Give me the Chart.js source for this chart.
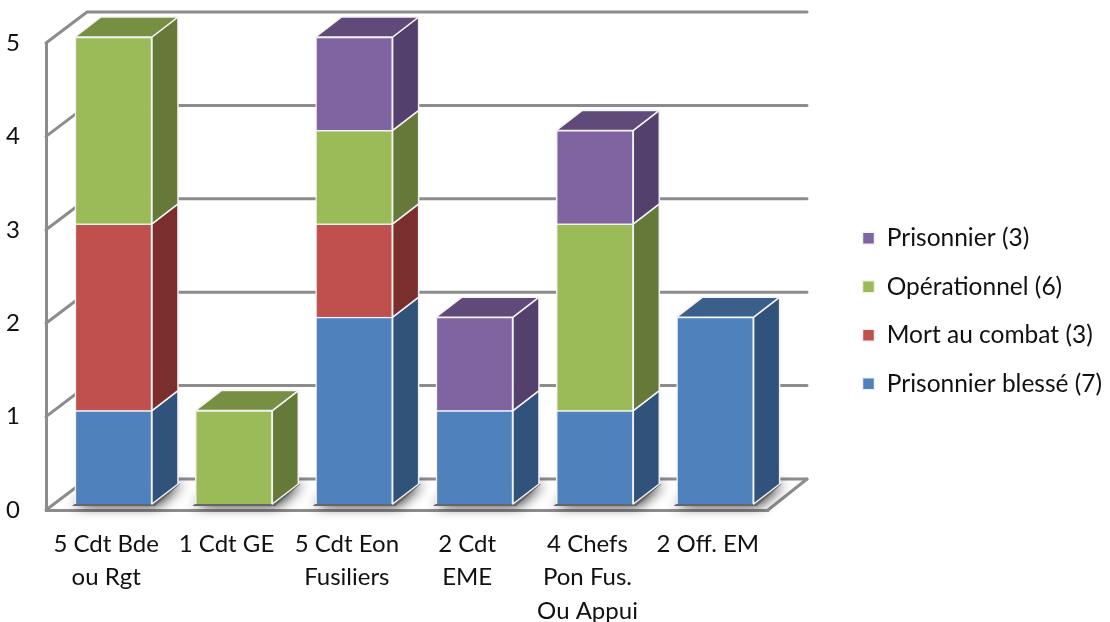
<!DOCTYPE html>
<html lang="fr">
<head>
<meta charset="utf-8">
<title>Chart</title>
<script src="https://cdn.jsdelivr.net/npm/chart.js@4"></script>
<style>
  html, body { margin: 0; background: #fff; }
  canvas { display: block; }
</style>
</head>
<body>
<canvas id="chart" width="1110" height="622"></canvas>
<script>
// chart data
const categories = [
  ["5 Cdt Bde", "ou Rgt"],
  "1 Cdt GE",
  ["5 Cdt Eon", "Fusiliers"],
  ["2 Cdt", "EME"],
  ["4 Chefs", "Pon Fus.", "Ou Appui"],
  "2 Off. EM",
];
const prisonnierBlesse = [1, 0, 2, 1, 1, 2];
const mortAuCombat = [2, 0, 1, 0, 0, 0];
const operationnel = [2, 1, 1, 0, 2, 0];
const prisonnier = [0, 0, 1, 1, 1, 0];
const yTicks = [0, 1, 2, 3, 4, 5];

// front, side and top face colours
const blue = ["#4f81bd", "#31527a", "#3a5f8b"];
const red = ["#c0504d", "#7b2f2d", "#8f3a38"];
const green = ["#9bbb59", "#657a38", "#768f43"];
const purple = ["#8064a2", "#54406c", "#5f4a79"];

// 3D look
const barShift = { x: 7.3, y: -6 }; // bars stand inside the floor
const barDepth = { x: 26, y: -20 };
const wallDepth = { x: 41, y: -31 };
const wallRightDepth = 39;
const wallColor = "#8c8c8c";

function poly(ctx, pts) {
  ctx.beginPath();
  pts.forEach((p, i) => (i ? ctx.lineTo(p[0], p[1]) : ctx.moveTo(p[0], p[1])));
  ctx.closePath();
}

const walls = {
  id: "walls",
  beforeDatasetsDraw(chart) {
    const { ctx, chartArea } = chart;
    const y = chart.scales.y;
    const backX = chartArea.left + wallDepth.x;
    const endX = chartArea.right + wallRightDepth;
    ctx.save();
    ctx.strokeStyle = wallColor;
    ctx.lineWidth = 3;
    ctx.lineCap = "round";
    yTicks.forEach((v) => {
      const py = y.getPixelForValue(v);
      ctx.beginPath();
      ctx.moveTo(chartArea.left, py);
      ctx.lineTo(backX, py + wallDepth.y);
      ctx.lineTo(endX, py + wallDepth.y);
      ctx.stroke();
    });
    // floor right edge
    ctx.beginPath();
    ctx.moveTo(chartArea.right, y.getPixelForValue(0));
    ctx.lineTo(endX, y.getPixelForValue(0) + wallDepth.y);
    ctx.stroke();
    ctx.restore();
  },
};

const boxes = {
  id: "boxes",
  beforeDatasetsDraw(chart) {
    const { ctx, data } = chart;
    ctx.save();
    ctx.translate(barShift.x, barShift.y);
    const dx = barDepth.x;
    const dy = barDepth.y;

    // shadow on the floor
    chart.getDatasetMeta(0).data.forEach((bar) => {
      const l = bar.x - bar.width / 2;
      const r = bar.x + bar.width / 2;
      const b = chart.scales.y.getPixelForValue(0);
      ctx.save();
      ctx.shadowColor = "rgba(0,0,0,.85)";
      ctx.shadowBlur = 13;
      ctx.shadowOffsetX = 2;
      ctx.fillStyle = "#666";
      poly(ctx, [[l - 3, b + 2], [r + 3, b + 2], [r + dx + 2, b + dy], [l + dx, b + dy]]);
      ctx.fill();
      ctx.restore();
    });

    ctx.strokeStyle = "#f2f2f2";
    ctx.lineWidth = 1.5;
    ctx.lineJoin = "round";
    data.datasets.forEach((ds, i) => {
      chart.getDatasetMeta(i).data.forEach((bar, j) => {
        if (!ds.data[j]) return;
        const r = bar.x + bar.width / 2;
        const l = bar.x - bar.width / 2;
        // side face
        ctx.fillStyle = ds.faces[1];
        poly(ctx, [[r, bar.y], [r + dx, bar.y + dy], [r + dx, bar.base + dy], [r, bar.base]]);
        ctx.fill();
        ctx.stroke();
        // top face only on the last segment of the stack
        const above = data.datasets.slice(i + 1).some((d) => d.data[j]);
        if (!above) {
          ctx.fillStyle = ds.faces[2];
          poly(ctx, [[l, bar.y], [r, bar.y], [r + dx, bar.y + dy], [l + dx, bar.y + dy]]);
          ctx.fill();
          ctx.stroke();
        }
      });
    });
  },
  afterDatasetsDraw(chart) {
    chart.ctx.restore();
  },
};

// move the legend out of the chart area
const legendPlace = {
  id: "legendPlace",
  afterLayout(chart) {
    const legend = chart.legend;
    const pad = legend.options.labels.padding;
    legend.left = 862.5 - pad;
    legend.top = 226 - pad;
    legend.right = chart.width;
    legend.bottom = chart.height;
  },
};

function series(label, values, faces) {
  return {
    label,
    data: values,
    faces,
    backgroundColor: faces[0],
    borderColor: "#f2f2f2",
    borderWidth: 1.5,
    barThickness: 77,
    clip: false,
  };
}

const font = { family: "Lato", size: 24 };

new Chart(document.querySelector("#chart"), {
  type: "bar",
  data: {
    labels: categories,
    datasets: [
      series("Prisonnier blessé (7)", prisonnierBlesse, blue),
      series("Mort au combat (3)", mortAuCombat, red),
      series("Opérationnel (6)", operationnel, green),
      series("Prisonnier (3)", prisonnier, purple),
    ],
  },
  plugins: [walls, boxes, legendPlace],
  options: {
    animation: false,
    responsive: false,
    events: [],
    layout: { padding: { top: 43, right: 342 } },
    scales: {
      x: {
        stacked: true,
        grid: { display: false },
        border: { color: wallColor, width: 3 },
        afterFit(scale) { scale.height = 112; },
        ticks: {
          color: "#111",
          font: { ...font, lineHeight: 1.38 },
          maxRotation: 0,
          autoSkip: false,
          padding: 10,
        },
      },
      y: {
        stacked: true,
        min: 0,
        max: 5,
        grid: { display: false },
        border: { color: wallColor, width: 3 },
        afterFit(scale) { scale.width = 46; },
        ticks: { color: "#111", font, stepSize: 1, padding: 18 },
      },
    },
    plugins: {
      tooltip: { enabled: false },
      legend: {
        position: "chartArea",
        align: "start",
        reverse: true,
        labels: {
          color: "#111",
          font: { family: "Lato", size: 24.5 },
          boxWidth: 12,
          boxHeight: 12,
          padding: 24,
        },
      },
    },
  },
});
</script>
</body>
</html>
